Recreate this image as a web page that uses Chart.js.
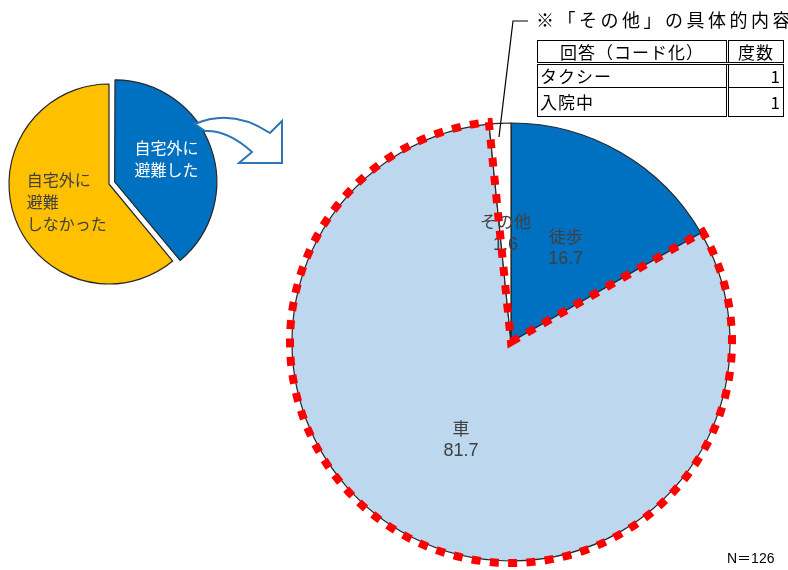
<!DOCTYPE html>
<html>
<head>
<meta charset="utf-8">
<script src="https://cdn.jsdelivr.net/npm/chart.js@4/dist/chart.umd.min.js"></script>
<style>
  html, body { margin: 0; padding: 0; background: #fff; }
  #page { position: relative; width: 788px; height: 570px; overflow: hidden;
          font-family: "Noto Sans CJK JP", "Liberation Sans", sans-serif; }
  #smallWrap { position: absolute; left: 0; top: 70px; width: 300px; height: 230px; }
  #bigWrap { position: absolute; left: 281px; top: 112px; width: 460px; height: 460px; }
  #title { position: absolute; left: 536px; top: 6px; font-size: 18px; letter-spacing: 3.5px;
           white-space: nowrap; color: #000; line-height: 26px; }
  #otherTable { position: absolute; left: 537px; top: 40px; border-collapse: collapse;
                font-size: 17px; letter-spacing: 1px; color: #000; }
  #otherTable td { border: 1.5px solid #000; padding: 0 2px; line-height: 20px; white-space: nowrap; }
  #otherTable tr.head td { border-bottom: 3px double #000; text-align: center; height: 21px; }
  #otherTable td.num { border-left: 3px double #000; text-align: right; width: 50px; }
  #otherTable td.name { width: 184px; }
  #nLabel { position: absolute; left: 727px; top: 547px; font-size: 14px; color: #000;
            font-family: "Liberation Sans", "Noto Sans CJK JP", sans-serif; }
  #leader { position: absolute; left: 0; top: 0; }
</style>
</head>
<body>
<div id="page">
  <div id="smallWrap"><canvas id="smallPie"></canvas></div>
  <div id="bigWrap"><canvas id="bigPie"></canvas></div>
  <svg id="leader" width="788" height="570"><polyline points="528,21 513,21 499,137" fill="none" stroke="#000" stroke-width="1.2"/></svg>
  <div id="title">※「その他」の具体的内容</div>
  <table id="otherTable"></table>
  <div id="nLabel"></div>
</div>
<script>
// evacuation (small pie)
const evacLabels = ['自宅外に避難した', '自宅外に避難しなかった'];
const evacLines = [['自宅外に', '避難した'], ['自宅外に', '避難', 'しなかった']];
const evacValues = [39.0, 61.0];
const evacColors = ['#0070C0', '#FFC000'];

// means of evacuation (big pie)
const modeLabels = ['徒歩', '車', 'その他'];
const modeValues = [16.7, 81.7, 1.6];
const modeColors = ['#0070C0', '#BDD7EE', '#FFFFFF'];

// "other" answers
const otherAnswers = ['タクシー', '入院中'];
const otherCounts = [1, 1];
const sampleSize = 126;

const jpFont = '"Noto Sans CJK JP", sans-serif';
const numFont = '"Liberation Sans", "Noto Sans CJK JP", sans-serif';

// table
const tbl = document.getElementById('otherTable');
let rows = '<tr class="head"><td class="name">回答（コード化）</td><td class="num" style="text-align:center">度数</td></tr>';
otherAnswers.forEach((a, i) => {
  rows += '<tr><td class="name">' + a + '</td><td class="num">' + otherCounts[i] + '</td></tr>';
});
tbl.innerHTML = rows;
tbl.rows[1].style.height = '24px';
tbl.rows[2].style.height = '29px';
document.getElementById('nLabel').textContent = 'N＝' + sampleSize;

const smallLabelPlugin = {
  id: 'smallLabels',
  afterDatasetsDraw(chart) {
    const ctx = chart.ctx;
    const meta = chart.getDatasetMeta(0);
    const factors = [0.55, 0.45];
    const nudgeY = [-4, 3];
    const colors = ['#FFFFFF', '#404040'];
    ctx.save();
    ctx.font = '16px ' + jpFont;
    ctx.textBaseline = 'middle';
    ctx.textAlign = 'left';
    meta.data.forEach((arc, i) => {
      const p = arc.getProps(['x', 'y', 'startAngle', 'endAngle', 'outerRadius'], true);
      const mid = (p.startAngle + p.endAngle) / 2;
      const off = (arc.options.offset || 0) / 4;
      const r = p.outerRadius * factors[i] + off;
      const cx = p.x + Math.cos(mid) * r;
      const cy = p.y + Math.sin(mid) * r + nudgeY[i];
      const lines = evacLines[i];
      const w = Math.max(...lines.map(l => ctx.measureText(l).width));
      const lh = 22;
      ctx.fillStyle = colors[i];
      lines.forEach((l, j) => {
        ctx.fillText(l, cx - w / 2, cy + (j - (lines.length - 1) / 2) * lh);
      });
    });
    // curved arrow from the evacuated slice
    ctx.strokeStyle = '#2E75B6';
    ctx.fillStyle = '#FFFFFF';
    ctx.lineWidth = 2;
    ctx.beginPath();
    ctx.moveTo(195, 54);
    ctx.quadraticCurveTo(232, 38, 270, 63);
    ctx.lineTo(282, 51);
    ctx.lineTo(282, 93);
    ctx.lineTo(239, 93);
    ctx.lineTo(252, 82);
    ctx.quadraticCurveTo(228, 60, 205, 61);
    ctx.closePath();
    ctx.fill();
    ctx.stroke();
    ctx.restore();
  }
};

new Chart(document.getElementById('smallPie'), {
  type: 'pie',
  data: {
    labels: evacLabels,
    datasets: [{
      data: evacValues,
      backgroundColor: evacColors,
      borderColor: '#262626',
      borderWidth: 1.2,
      offset: [24, 0]
    }]
  },
  options: {
    responsive: true,
    maintainAspectRatio: false,
    animation: false,
    radius: 100,
    layout: { padding: { left: 0, right: 82, top: 0, bottom: 2 } },
    plugins: { legend: { display: false }, tooltip: { enabled: false } }
  },
  plugins: [smallLabelPlugin]
});

const bigLabelPlugin = {
  id: 'bigLabels',
  afterDatasetsDraw(chart) {
    const ctx = chart.ctx;
    const meta = chart.getDatasetMeta(0);
    ctx.save();
    ctx.fillStyle = '#404040';
    ctx.textAlign = 'center';
    ctx.textBaseline = 'middle';
    meta.data.forEach((arc, i) => {
      const pos = arc.tooltipPosition(true);
      ctx.font = '17px ' + jpFont;
      ctx.fillText(modeLabels[i], pos.x, pos.y - 11);
      ctx.font = '18px ' + numFont;
      ctx.fillText(modeValues[i].toFixed(1), pos.x, pos.y + 12);
    });
    // red dotted outline around the "car" slice
    const arc = meta.data[1];
    const p = arc.getProps(['x', 'y', 'startAngle', 'endAngle', 'outerRadius'], true);
    const R = p.outerRadius + 2;
    ctx.strokeStyle = '#FF0000';
    ctx.lineWidth = 8;
    ctx.setLineDash([9, 9.3]);
    ctx.beginPath();
    ctx.moveTo(p.x, p.y);
    ctx.lineTo(p.x + Math.cos(p.startAngle) * R, p.y + Math.sin(p.startAngle) * R);
    ctx.arc(p.x, p.y, R, p.startAngle, p.endAngle);
    ctx.closePath();
    ctx.stroke();
    ctx.restore();
  }
};

new Chart(document.getElementById('bigPie'), {
  type: 'pie',
  data: {
    labels: modeLabels,
    datasets: [{
      data: modeValues,
      backgroundColor: modeColors,
      borderColor: '#262626',
      borderWidth: 1.2
    }]
  },
  options: {
    responsive: true,
    maintainAspectRatio: false,
    animation: false,
    radius: 219,
    plugins: { legend: { display: false }, tooltip: { enabled: false } }
  },
  plugins: [bigLabelPlugin]
});
</script>
</body>
</html>
